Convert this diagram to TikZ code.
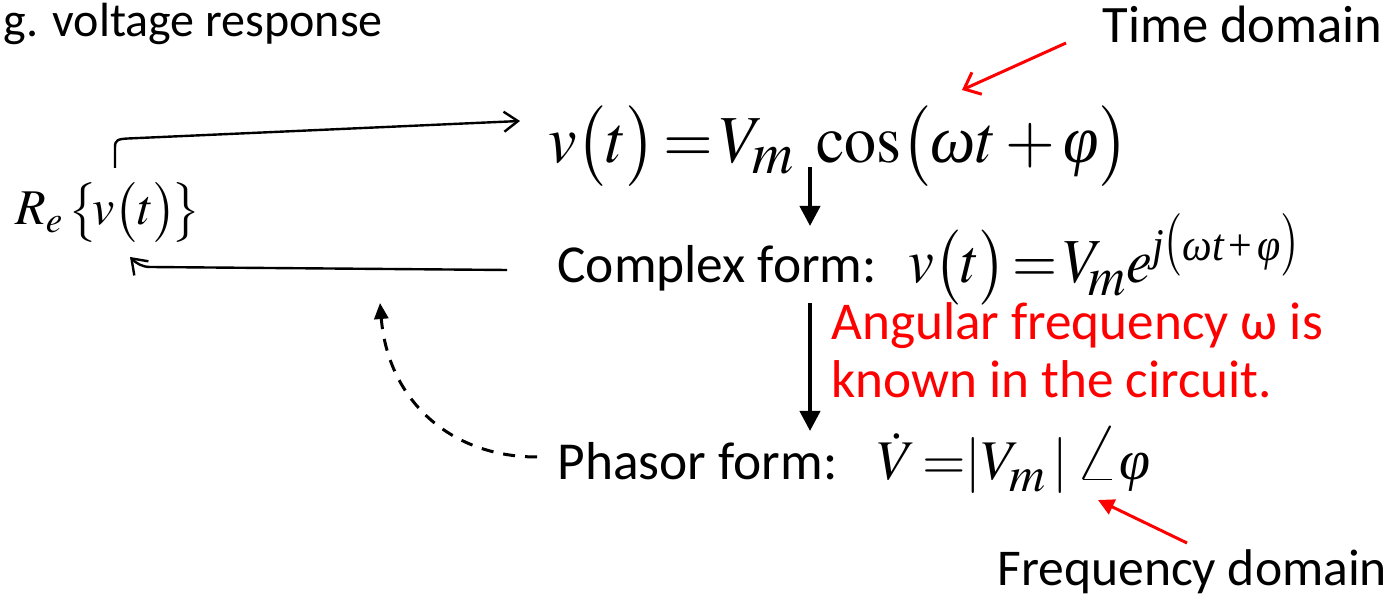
\documentclass[tikz,border=0pt]{standalone}
\usepackage{mathptmx}
\usepackage[no-math]{fontspec}
\setmainfont{Carlito}
\newfontfamily\tnrfont{Liberation Serif}
\usepackage{graphicx}
\usetikzlibrary{arrows.meta}
\newcommand{\gom}{\mbox{\tnrfont\itshape ω}}
\newcommand{\gph}{\mbox{\tnrfont\itshape φ}}
\newcommand{\sgom}{\mbox{\tnrfont\itshape\fontsize{21}{22}\selectfont ω}}
\newcommand{\sgph}{\mbox{\tnrfont\itshape\fontsize{21}{22}\selectfont φ}}
\newcommand{\sgt}{\mbox{\tnrfont\itshape\fontsize{21}{22}\selectfont t}}
\newcommand{\sgj}{\mbox{\tnrfont\itshape\fontsize{21}{22}\selectfont j}}
\newcommand{\sgpl}{\mbox{\tnrfont\fontsize{21}{22}\selectfont +}}
\newcommand{\subm}{{\scalebox{1.2}{$\scriptstyle m$}}}
\begin{document}
\begin{tikzpicture}[x=0.5pt,y=-0.5pt,
  lbl/.style={inner sep=0pt, anchor=base west, font=\fontsize{26.7}{30}\selectfont},
  lblsmall/.style={inner sep=0pt, anchor=base west, font=\fontsize{24}{28}\selectfont},
  lblbig/.style={inner sep=0pt, anchor=base west, font=\fontsize{26.3}{30}\selectfont},
  eqn/.style={inner sep=0pt, anchor=base west},
  conn/.style={line width=1.2pt, -{Straight Barb[length=7pt,width=10pt]}},
  dashconn/.style={line width=1.5pt, dash pattern=on 6pt off 5pt, -{Triangle[length=8pt,width=7pt]}},
  downarr/.style={line width=2pt, -{Triangle[length=10pt,width=10pt]}},
  redopen/.style={red, line width=1.5pt, -{Straight Barb[length=7pt,width=12pt]}},
  redfill/.style={red, line width=1.5pt, -{Triangle[length=8pt,width=8pt]}}
]
\path[use as bounding box, fill=white] (0,0) rectangle (1400,597);

\node[lblsmall] (eg) at (3,37) {g. voltage response};
\node[lblbig] (td) at (1102,43) {Time domain};
\node[lbl] (cf) at (557,283) {Complex form:};
\node[lbl] (pf) at (557,480) {Phasor form:};
\node[lblbig, text=red, font=\fontsize{26.6}{30}\selectfont] (ang1) at (831,340) {Angular frequency ω is};
\node[lblbig, text=red, font=\fontsize{26.6}{30}\selectfont] (ang2) at (831,398) {known in the circuit.};
\node[lblbig, font=\fontsize{25.8}{30}\selectfont] (fd) at (997,585) {Frequency domain};

\node[eqn, font=\fontsize{32}{36}\selectfont] (eq1) at (548,163)
  {\scalebox{1}[1.05]{$v\bigl(t\bigr)\!=\!V_{\subm}\;\cos\bigl(\gom t+\gph\bigr)$}};
\node[eqn, font=\fontsize{29}{32}\selectfont] (eq2) at (908,283)
  {\scalebox{1}[1.08]{$v\bigl(t\bigr)\!=\!V_{\!\subm\vphantom{|}}e^{\sgj\scalebox{1.1}[1.35]{$\scriptstyle($}\sgom\sgt\,\sgpl\,\sgph\scalebox{1.1}[1.35]{$\scriptstyle)$}}$}};
\node[eqn, font=\fontsize{28}{32}\selectfont] (eq3) at (877,480)
  {$\dot V\!=\!\!|V_{\subm\vphantom{|}}\,|\,\scalebox{1.4}{$\angle$}\gph$};
\node[eqn, font=\fontsize{25}{30}\selectfont] (re) at (15,225)
  {$R_e\,\bigl\{\!v\bigl(t\bigr)\!\bigr\}$};

\coordinate (a1s) at (115,168);
\coordinate (a1e) at (520,121);
\coordinate (a2s) at (507,270);
\coordinate (a2e) at (130,257);
\coordinate (a3s) at (537,457);
\coordinate (a3e) at (380,303);
\coordinate (d1s) at (810,167);
\coordinate (d1e) at (810,226);
\coordinate (d2s) at (810,303);
\coordinate (d2e) at (810,431);
\coordinate (r1s) at (1066,43);
\coordinate (r1e) at (962,90);
\coordinate (r2s) at (1187,543);
\coordinate (r2e) at (1098,500);

\draw[conn] (a1s) -- (115,147) .. controls (115,140) and (118,139) .. (128,138.5) -- (a1e);
\draw[conn] (a2s) -- (150,267) .. controls (142,267) and (136,263) .. (a2e);
\draw[dashconn] (a3s) .. controls (450,457) and (388,400) .. (a3e);
\draw[downarr] (d1s) -- (d1e);
\draw[downarr] (d2s) -- (d2e);
\draw[redopen] (r1s) -- (r1e);
\draw[redfill] (r2s) -- (r2e);
\end{tikzpicture}
\end{document}
